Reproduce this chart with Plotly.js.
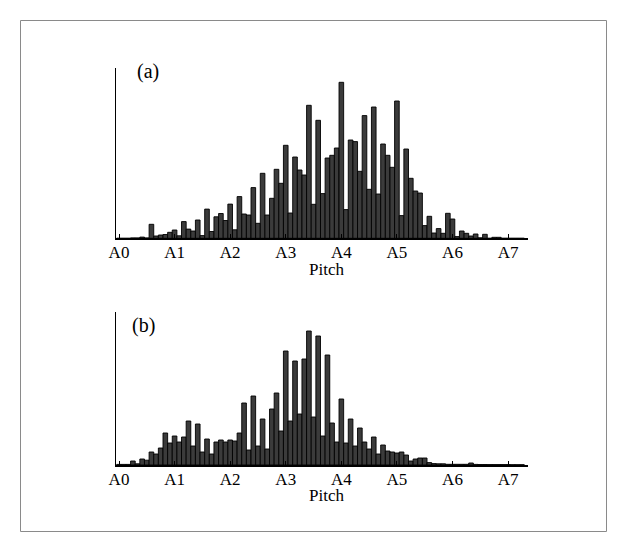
<!DOCTYPE html>
<html>
<head>
<meta charset="utf-8">
<script src="https://cdn.plot.ly/plotly-3.0.1.min.js"></script>
<style>
  html, body { margin: 0; padding: 0; background: #ffffff; }
  #chart { width: 627px; height: 552px; }
</style>
</head>
<body>
<div id="chart"></div>
<script>
// Piano key index, A0 = 0 ... C8 = 87
const keyIndex = [
  0, 1, 2, 3, 4, 5, 6, 7, 8, 9, 10, 11, 12, 13, 14, 15, 16, 17, 18, 19, 20, 21,
  22, 23, 24, 25, 26, 27, 28, 29, 30, 31, 32, 33, 34, 35, 36, 37, 38, 39, 40, 41, 42, 43,
  44, 45, 46, 47, 48, 49, 50, 51, 52, 53, 54, 55, 56, 57, 58, 59, 60, 61, 62, 63, 64, 65,
  66, 67, 68, 69, 70, 71, 72, 73, 74, 75, 76, 77, 78, 79, 80, 81, 82, 83, 84, 85, 86, 87
];

// Octave ticks at every A
const octaveTickKeys = [0, 12, 24, 36, 48, 60, 72, 84];
const octaveTickLabels = ['A0', 'A1', 'A2', 'A3', 'A4', 'A5', 'A6', 'A7'];

// Note counts per key, panel (a)
const countsA = [
  0, 0, 0, 0.4, 0.4, 1.2, 0.4, 14, 2.3, 3.3, 3.8, 6,
  8.3, 2.5, 16.7, 9.2, 7.3, 18.3, 2.7, 29.2, 6.8, 21.5, 24.8, 17.8,
  34.2, 8.5, 41.7, 24.3, 23.3, 50.7, 15, 65, 23.3, 40, 69, 55,
  93, 25.3, 81.3, 68.3, 63.3, 133, 34, 118, 44.7, 80.3, 83, 90.3,
  156, 28.7, 98.3, 96.7, 67, 122.7, 49, 131.3, 44.3, 94.3, 83, 71,
  137.3, 22.7, 89.3, 60, 47.3, 45.3, 12.7, 22, 5.3, 9.7, 5, 25,
  19.3, 1.7, 7.3, 5, 2.3, 4.3, 0.5, 4, 0, 1, 1, 0,
  0, 0, 0, 0
];

// Note counts per key, panel (b)
const countsB = [
  0.6, 0.6, 0.6, 4, 1.2, 6, 4.8, 13, 11, 17, 32, 22,
  29, 23, 28, 44, 19, 41, 13, 26, 11, 23, 25, 23,
  25, 24, 32, 62, 15, 69, 19, 46, 16, 56, 72, 34,
  114, 44, 104, 51, 106, 134, 48, 129, 29, 110, 42, 23,
  66, 22, 46, 19, 37, 23, 16, 28, 11, 20, 14, 13,
  12, 13, 10, 4, 6, 7, 7, 2.4, 1.4, 1.2, 1.2, 0.7,
  0.7, 0.7, 0.7, 0.7, 2, 0.6, 0.5, 0.5, 0.4, 0.4, 0.4, 0.4,
  0.4, 0.3, 0.3, 0.3
];

const W = 627, H = 552;
const px = v => v / W;            // horizontal pixel -> paper fraction
const py = v => (H - v) / H;      // vertical pixel (from top) -> paper fraction

const serif = 'Liberation Serif, "Times New Roman", Times, serif';

const barStyle = {
  color: '#3b3b3b',
  line: { color: '#000000', width: 0.9 }
};

const traces = [
  { type: 'bar', x: keyIndex, y: countsA, xaxis: 'x', yaxis: 'y',
    marker: barStyle, width: 1, hoverinfo: 'skip' },
  { type: 'bar', x: keyIndex, y: countsB, xaxis: 'x2', yaxis: 'y2',
    marker: barStyle, width: 1, hoverinfo: 'skip' }
];

const xDomain = [px(115.8), px(528)];
const xRange = [-0.69, 88.3];

function pitchAxis(anchor) {
  return {
    anchor: anchor,
    domain: xDomain,
    range: xRange,
    tickmode: 'array',
    tickvals: octaveTickKeys,
    ticktext: octaveTickLabels,
    ticks: 'inside',
    ticklen: 4,
    tickwidth: 1,
    tickcolor: '#000000',
    ticklabelstandoff: -2,
    tickfont: { family: serif, size: 17, color: '#000000' },
    showline: true,
    linecolor: '#000000',
    linewidth: 1.5,
    showgrid: false,
    zeroline: false,
    fixedrange: true
  };
}

function countAxis(anchor, top, base) {
  return {
    anchor: anchor,
    domain: [py(base), py(top)],
    range: [0, base - top],
    showline: true,
    linecolor: '#000000',
    linewidth: 1.3,
    ticks: '',
    showticklabels: false,
    showgrid: false,
    zeroline: false,
    fixedrange: true
  };
}

function note(text, x, y, size) {
  return {
    text: text, xref: 'paper', yref: 'paper', x: px(x), y: py(y),
    xanchor: 'center', yanchor: 'middle', showarrow: false,
    font: { family: serif, size: size, color: '#000000' }
  };
}

const layout = {
  width: W,
  height: H,
  margin: { l: 0, r: 0, t: 0, b: 0 },
  paper_bgcolor: '#ffffff',
  plot_bgcolor: 'rgba(0,0,0,0)',
  showlegend: false,
  bargap: 0,
  xaxis: pitchAxis('y'),
  yaxis: countAxis('x', 68, 238.3),
  xaxis2: pitchAxis('y2'),
  yaxis2: countAxis('x2', 312, 465),
  annotations: [
    note('Pitch', 326.7, 269.5, 17),
    note('Pitch', 326.7, 495.5, 17),
    note('(a)', 148, 71, 20),
    note('(b)', 143, 325, 20)
  ],
  shapes: [
    { type: 'rect', xref: 'paper', yref: 'paper',
      x0: px(20.5), x1: px(606.5), y0: py(531.5), y1: py(20.5),
      line: { color: '#8a8a8a', width: 1 }, fillcolor: 'rgba(0,0,0,0)' }
  ]
};

Plotly.newPlot('chart', traces, layout, { staticPlot: true, displayModeBar: false });
</script>
</body>
</html>
